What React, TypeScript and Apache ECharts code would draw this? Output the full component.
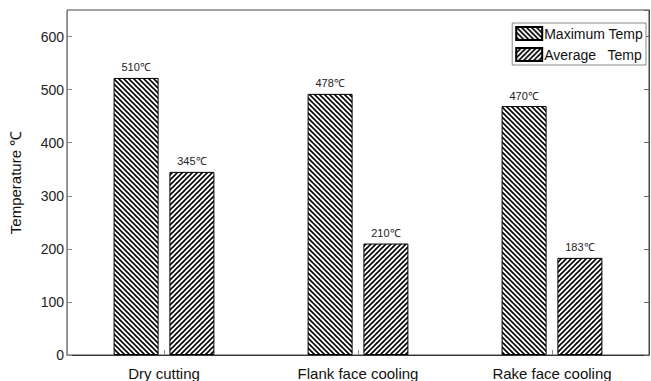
import React, { useEffect, useRef } from "react";
import * as echarts from "echarts";

const categories = ["Dry cutting", "Flank face cooling", "Rake face cooling"];
const maxValues = [522, 492, 469];
const avgValues = [345, 210, 183];
const maxLabels = ["510℃", "478℃", "470℃"];
const avgLabels = ["345℃", "210℃", "183℃"];
const yTicks = [0, 100, 200, 300, 400, 500, 600];

function makeHatch(dir: "back" | "fwd") {
  const s = 5;
  const c = document.createElement("canvas");
  c.width = s;
  c.height = s;
  const ctx = c.getContext("2d")!;
  ctx.fillStyle = "#fff";
  ctx.fillRect(0, 0, s, s);
  ctx.strokeStyle = "#000";
  ctx.lineWidth = 1.6;
  ctx.beginPath();
  if (dir === "back") {
    ctx.moveTo(0, 0); ctx.lineTo(s, s);
    ctx.moveTo(-1, s - 1); ctx.lineTo(1, s + 1);
    ctx.moveTo(s - 1, -1); ctx.lineTo(s + 1, 1);
  } else {
    ctx.moveTo(0, s); ctx.lineTo(s, 0);
    ctx.moveTo(-1, 1); ctx.lineTo(1, -1);
    ctx.moveTo(s - 1, s + 1); ctx.lineTo(s + 1, s - 1);
  }
  ctx.stroke();
  return c;
}

export default function App() {
  const ref = useRef<HTMLDivElement>(null);
  useEffect(() => {
    if (!ref.current) return;
    const chart = echarts.init(ref.current, null, { renderer: "svg" });
    const font = "'Liberation Sans', Arial, sans-serif";
    const backPat = { image: makeHatch("back"), repeat: "repeat" };
    const fwdPat = { image: makeHatch("fwd"), repeat: "repeat" };
    const yMin = yTicks[0];
    const yMax = 650;
    chart.setOption({
      animation: false,
      backgroundColor: "#fff",
      textStyle: { fontFamily: font },
      grid: {
        left: 63,
        right: 2,
        top: 10,
        bottom: 24,
        show: true,
        borderColor: "#444",
        borderWidth: 1,
        backgroundColor: "transparent",
      },
      legend: {
        orient: "vertical",
        right: 5,
        top: 23,
        itemWidth: 26,
        itemHeight: 13,
        itemGap: 6,
        padding: [3, 3, 3, 3],
        backgroundColor: "#fff",
        borderColor: "#888",
        borderWidth: 1,
        borderRadius: 0,
        textStyle: { fontSize: 14, color: "#111", fontFamily: font, padding: [0, 0, 0, -3] },
        data: [
          { name: "Maximum Temp", icon: "rect" },
          { name: "Average   Temp", icon: "rect" },
        ],
      },
      xAxis: {
        type: "category",
        data: categories,
        axisLine: { show: true, lineStyle: { color: "#333", width: 1 } },
        axisTick: { show: true, alignWithLabel: true, inside: true, length: 5, lineStyle: { color: "#888" } },
        axisLabel: { fontSize: 15, color: "#111", margin: 11, fontFamily: font },
        splitLine: { show: false },
      },
      yAxis: [
        {
          type: "value",
          min: yMin,
          max: yMax,
          interval: 100,
          name: "Temperature ℃",
          nameLocation: "middle",
          nameGap: 44,
          nameTextStyle: { fontSize: 15, color: "#111", fontFamily: font },
          axisLine: { show: true, lineStyle: { color: "#888" } },
          axisTick: { show: true, inside: true, length: 5, lineStyle: { color: "#888" } },
          axisLabel: { fontSize: 14, color: "#222", margin: 3, showMaxLabel: false, fontFamily: font },
          splitLine: { show: false },
        },
        {
          type: "value",
          position: "right",
          min: yMin,
          max: yMax,
          interval: 100,
          axisLine: { show: true, lineStyle: { color: "#444" } },
          axisTick: { show: true, inside: true, length: 5, lineStyle: { color: "#666" } },
          axisLabel: { show: false },
          splitLine: { show: false },
        },
      ],
      series: [
        {
          name: "Maximum Temp",
          type: "bar",
          data: maxValues,
          barWidth: 45,
          barGap: "24%",
          itemStyle: { color: backPat, borderColor: "#000", borderWidth: 1 },
          label: {
            show: true,
            position: "top",
            distance: 5,
            fontSize: 11,
            color: "#222",
            fontFamily: font,
            formatter: (p: any) => maxLabels[p.dataIndex],
          },
        },
        {
          name: "Average   Temp",
          type: "bar",
          data: avgValues,
          barWidth: 45,
          itemStyle: { color: fwdPat, borderColor: "#000", borderWidth: 1 },
          label: {
            show: true,
            position: "top",
            distance: 5,
            fontSize: 11,
            color: "#222",
            fontFamily: font,
            formatter: (p: any) => avgLabels[p.dataIndex],
          },
        },
      ],
    });
    return () => chart.dispose();
  }, []);
  return <div ref={ref} style={{ width: 651, height: 381, position: "absolute", left: 0, top: 0 }} />;
}
